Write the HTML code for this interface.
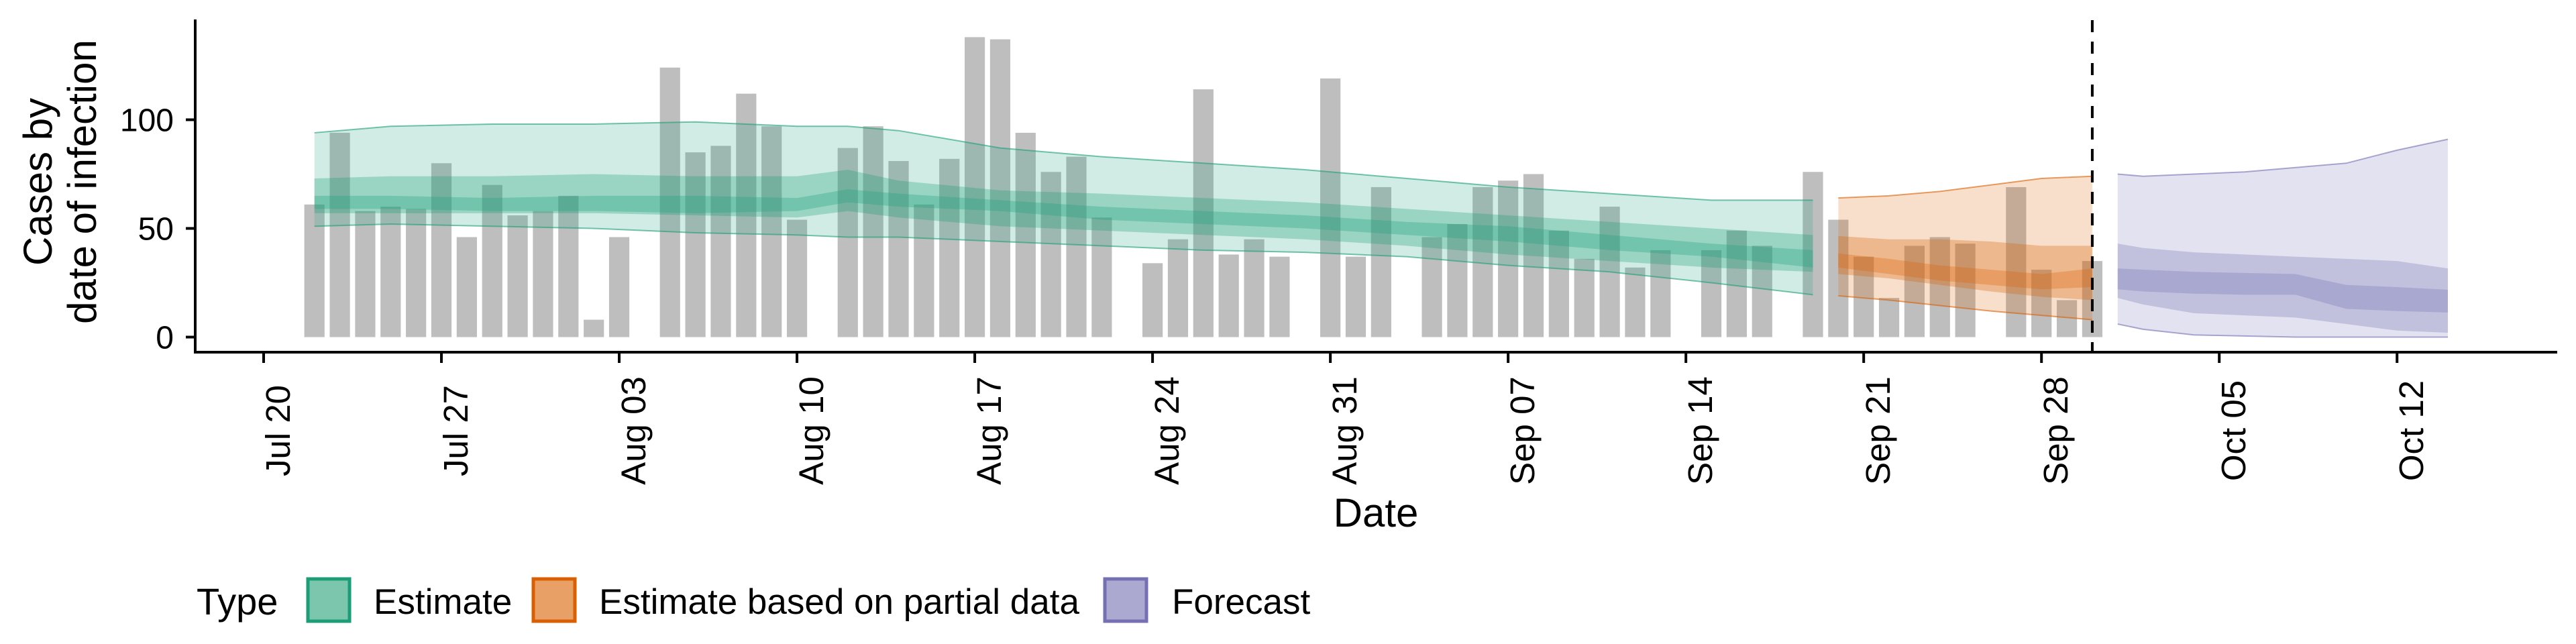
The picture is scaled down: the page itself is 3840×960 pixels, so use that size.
<!DOCTYPE html>
<html><head><meta charset="utf-8"><style>
html,body{margin:0;padding:0;background:#fff;}
svg{display:block;font-family:"Liberation Sans",Arial,sans-serif;}
</style></head><body>
<svg id="chart" width="3840" height="960" viewBox="0 0 3840 960" xmlns="http://www.w3.org/2000/svg">
<g id="bars"></g>
<g id="ribbons"></g>
<g id="axes"></g>
<g id="legend"></g>
</svg>
<script>
// ---- data ----
const tickDays = [0,7,14,21,28,35,42,49,56,63,70,77,84];
const tickLabels = ["Jul 20","Jul 27","Aug 03","Aug 10","Aug 17","Aug 24","Aug 31","Sep 07","Sep 14","Sep 21","Sep 28","Oct 05","Oct 12"];
const yTicks = [0,50,100];
// bars: day index from Jul 20
const barDays = [2,3,4,5,6,7,8,9,10,11,12,13,14,16,17,18,19,20,21,23,24,25,26,27,28,29,30,31,32,33,35,36,37,38,39,40,42,43,44,46,47,48,49,50,51,52,53,54,55,57,58,59,61,62,63,64,65,66,67,69,70,71,72];
const barValues = [61,94,58,60,59,80,46,70,56,58,65,8,46,124,85,88,112,97,54,87,97,81,61,82,138,137,94,76,83,55,34,45,114,38,45,37,119,37,69,46,52,69,72,75,49,36,60,32,40,40,49,42,76,54,37,18,42,46,43,69,31,17,35];
// estimate (green)
const estDays = [2,5,9,13,17,21,23,25,29,33,37,41,45,49,53,57,61];
const estHi90 = [94,97,98,98,99,97,97,95,87,83,80,77,73,69,66,63,63];
const estLo90 = [51,52,51,50,48,47,46,46,44,42,40,39,37,33,30,25,19.5];
const estHi50 = [73,74,74,75,74,74,77,72,67.5,66,64,62,59,56,53,50,47];
const estLo50 = [57,57,57,57,56,55,58,55,51,49,47,45,42,38,35,32,30];
const estHi20 = [65,65,64,65,65,64,68,66,63,60,58,56,53,51,47,43,40];
const estLo20 = [59,59,58,58,57,58,62,60,58,54,52,50,47,44,40,37,32];
// estimate based on partial data (orange)
const partDays = [62,64,66,68,70,72];
const partHi90 = [64,65,67,70,73,74];
const partLo90 = [19,17,14.5,12,10,8];
const partHi50 = [46.5,45,45,44,42,42];
const partLo50 = [29,27,24,21,18.5,17];
const partHi20 = [38.5,36,33,31,29,31.6];
const partLo20 = [32,29,26,24,22,23];
// forecast (purple)
const fcDays = [73,74,76,78,80,82,84,86];
const fcHi90 = [75,74,75,76,78,80,86,91];
const fcLo90 = [6,3.6,1,0.5,0,0,0,0];
const fcHi50 = [43,41,39,38,37,36,35,31.6];
const fcLo50 = [18,15,11,10,9,6,3,2];
const fcHi20 = [31.6,31,30,29.5,29,24,23,21.8];
const fcLo20 = [22,21,20,19.5,19.5,13,12,11.3];
const forecastDay = 72;

// ---- scales ----
const X0 = 393, DX = 37.86, Y0 = 502.5, DY = 3.24;
const xS = d => X0 + d * DX;
const yS = v => Y0 - v * DY;
const NS = "http://www.w3.org/2000/svg";
function mk(tag, attrs, parent){
  const e = document.createElementNS(NS, tag);
  for (const k in attrs) e.setAttribute(k, attrs[k]);
  parent.appendChild(e); return e;
}
const gBars = document.getElementById('bars');
barDays.forEach((d,i)=>{
  const r = mk('rect',{x:xS(d)-15.1,y:yS(barValues[i]),width:30.2,height:barValues[i]*DY,fill:'#bebebe'},gBars);
  
  
});
const gRib = document.getElementById('ribbons');
function band(days, hi, lo, color, op, name){
  let pts = days.map((d,i)=>xS(d)+','+yS(hi[i]));
  pts = pts.concat(days.map((d,i)=>xS(d)+','+yS(lo[i])).reverse());
  const p = mk('polygon',{points:pts.join(' '),fill:color,'fill-opacity':op},gRib);
  
  
}
function edge(days, vals, color, name){
  const p = mk('polyline',{points:days.map((d,i)=>xS(d)+','+yS(vals[i])).join(' '),fill:'none',stroke:color,'stroke-width':2,'stroke-opacity':0.6},gRib);
  
  
}
function series(days,h90,l90,h50,l50,h20,l20,color,key){
  band(days,h90,l90,color,0.2,key+'-ribbon-90');
  band(days,h50,l50,color,0.3,key+'-ribbon-50');
  band(days,h20,l20,color,0.3,key+'-ribbon-20');
  edge(days,h90,color,key+'-upper-edge');
  edge(days,l90,color,key+'-lower-edge');
}
series(estDays,estHi90,estLo90,estHi50,estLo50,estHi20,estLo20,'#1b9e77','estimate');
series(partDays,partHi90,partLo90,partHi50,partLo50,partHi20,partLo20,'#d95f02','partial-estimate');
series(fcDays,fcHi90,fcLo90,fcHi50,fcLo50,fcHi20,fcLo20,'#7570b3','forecast');

// ---- axes ----
const gA = document.getElementById('axes');
let e;
e = mk('line',{x1:xS(forecastDay),x2:xS(forecastDay),y1:30,y2:525,stroke:'#000','stroke-width':4,'stroke-dasharray':'18,14'},gA);


e = mk('line',{x1:291,x2:291,y1:29,y2:527,stroke:'#000','stroke-width':4},gA);


e = mk('line',{x1:289,x2:3812,y1:525,y2:525,stroke:'#000','stroke-width':4},gA);


yTicks.forEach(v=>{
  const t = mk('line',{x1:277,x2:291,y1:yS(v),y2:yS(v),stroke:'#000','stroke-width':4},gA);
  
  
  const l = mk('text',{x:259,y:yS(v)+17,'text-anchor':'end','font-size':48,fill:'#000'},gA);
  l.textContent = v;
  
  
});
tickDays.forEach((d,i)=>{
  const t = mk('line',{x1:xS(d),x2:xS(d),y1:525,y2:541,stroke:'#000','stroke-width':4},gA);
  
  
  const l = mk('text',{transform:'translate('+(xS(d)+39)+',642) rotate(-90)','text-anchor':'middle','font-size':51,fill:'#000'},gA);
  l.textContent = tickLabels[i];
  
  
});
e = mk('text',{x:2051,y:785,'text-anchor':'middle','font-size':60,fill:'#000'},gA);
e.textContent = 'Date';


e = mk('text',{transform:'translate(77,271) rotate(-90)','text-anchor':'middle','font-size':60,fill:'#000'},gA);
e.textContent = 'Cases by';


e = mk('text',{transform:'translate(143,271) rotate(-90)','text-anchor':'middle','font-size':60,fill:'#000'},gA);
e.textContent = 'date of infection';



// ---- legend ----
const gL = document.getElementById('legend');
e = mk('text',{x:293,y:916,'font-size':56,fill:'#000'},gL);
e.textContent = 'Type';


const legItems = [
  {x:459,fill:'#7bc6ad',stroke:'#1b9e77',tx:557,label:'Estimate',name:'legend-entry-estimate'},
  {x:795,fill:'#e8a066',stroke:'#d95f02',tx:893,label:'Estimate based on partial data',name:'legend-entry-partial'},
  {x:1647,fill:'#aba9cf',stroke:'#7570b3',tx:1747,label:'Forecast',name:'legend-entry-forecast'}
];
legItems.forEach(it=>{
  const r = mk('rect',{x:it.x,y:863,width:62,height:63,fill:it.fill,stroke:it.stroke,'stroke-width':5},gL);
  
  
  const t = mk('text',{x:it.tx,y:915,'font-size':53,fill:'#000'},gL);
  t.textContent = it.label;
  
  
});
</script>
</body></html>
